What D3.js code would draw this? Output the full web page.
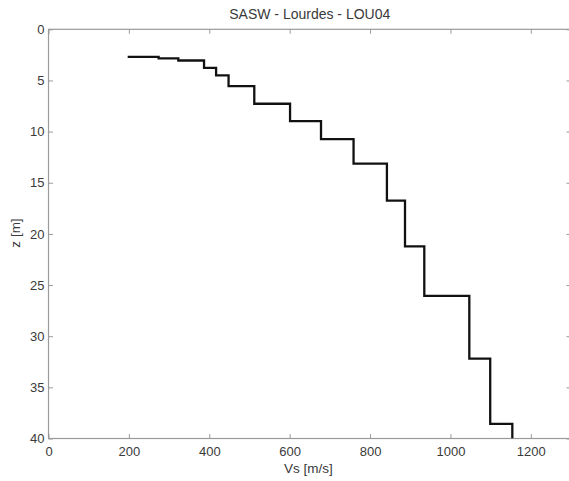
<!DOCTYPE html>
<html>
<head>
<meta charset="utf-8">
<script src="https://cdn.jsdelivr.net/npm/d3@7"></script>
<style>
  html, body { margin: 0; padding: 0; background: #fff; }
  svg { display: block; }
  text { font-family: "Liberation Sans", Arial, sans-serif; fill: #3a3a3a; }
</style>
</head>
<body>
<svg id="chart" width="569" height="481"></svg>
<script>
// Data: Vs profile (stairs). Layer velocities and the depth of each layer's bottom.
const velocities = [197, 274, 323, 387, 417, 448, 512, 601, 678, 759, 842, 887, 935, 1047, 1099, 1154];
const depths     = [2.7, 2.85, 3.05, 3.78, 4.5, 5.55, 7.28, 8.98, 10.74, 13.13, 16.75, 21.22, 26.05, 32.2, 38.58, 40];
const xTicks = [0, 200, 400, 600, 800, 1000, 1200];
const yTicks = [0, 5, 10, 15, 20, 25, 30, 35, 40];
const titleText = "SASW - Lourdes - LOU04";
const xLabel = "Vs [m/s]";
const yLabel = "z [m]";

const svg = d3.select("#chart");
const mLeft = 48.5, mRight = 571, mTop = 29.3, mBottom = 438.5;
const axisColor = "#9a9a9a";

const x = d3.scaleLinear().domain([0, 1300]).range([mLeft, mRight]);
const y = d3.scaleLinear().domain([0, 40]).range([mTop, mBottom]);

// Build stair path points
const pts = [[velocities[0], depths[0]]];
for (let i = 1; i < velocities.length; i++) {
  pts.push([velocities[i], depths[i - 1]]);
  pts.push([velocities[i], depths[i]]);
}

svg.append("defs").append("clipPath").attr("id", "clip")
  .append("rect").attr("x", mLeft).attr("y", mTop).attr("width", mRight - mLeft).attr("height", mBottom - mTop);

// Box
svg.append("rect")
  .attr("x", mLeft).attr("y", mTop)
  .attr("width", mRight - mLeft).attr("height", mBottom - mTop)
  .attr("fill", "none").attr("stroke", axisColor).attr("stroke-width", 1.2);

function styleAxis(g, showText) {
  g.select(".domain").remove();
  g.selectAll(".tick line").attr("stroke", axisColor).attr("stroke-width", 1);
  g.selectAll(".tick text").attr("font-size", "13px").attr("fill", "#3a3a3a")
    .style("display", showText ? null : "none");
}

svg.append("g").attr("transform", `translate(0,${mBottom})`)
  .call(d3.axisBottom(x).tickValues(xTicks).tickSizeInner(-4.5).tickSizeOuter(0).tickPadding(8).tickFormat(d3.format("d")))
  .call(g => styleAxis(g, true));
svg.append("g").attr("transform", `translate(0,${mTop})`)
  .call(d3.axisTop(x).tickValues(xTicks).tickSizeInner(-4.5).tickSizeOuter(0))
  .call(g => styleAxis(g, false));
svg.append("g").attr("transform", `translate(${mLeft},0)`)
  .call(d3.axisLeft(y).tickValues(yTicks).tickSizeInner(-4.5).tickSizeOuter(0).tickPadding(4).tickFormat(d3.format("d")))
  .call(g => styleAxis(g, true));
svg.append("g").attr("transform", `translate(${mRight},0)`)
  .call(d3.axisRight(y).tickValues(yTicks).tickSizeInner(-4.5).tickSizeOuter(0))
  .call(g => styleAxis(g, false));

// Profile line
svg.append("path")
  .datum(pts)
  .attr("clip-path", "url(#clip)")
  .attr("fill", "none")
  .attr("stroke", "#111")
  .attr("stroke-width", 2.3)
  .attr("stroke-linejoin", "miter")
  .attr("d", d3.line().x(d => x(d[0])).y(d => y(d[1])));

// Title & labels
svg.append("text").attr("x", (mLeft + mRight) / 2).attr("y", 18.5)
  .attr("text-anchor", "middle").attr("font-size", "14px").text(titleText);
svg.append("text").attr("x", 308.5).attr("y", 472.5)
  .attr("text-anchor", "middle").attr("font-size", "13.5px").text(xLabel);
svg.append("text").attr("transform", "translate(20,233) rotate(-90)")
  .attr("text-anchor", "middle").attr("font-size", "13.5px").text(yLabel);
</script>
</body>
</html>
